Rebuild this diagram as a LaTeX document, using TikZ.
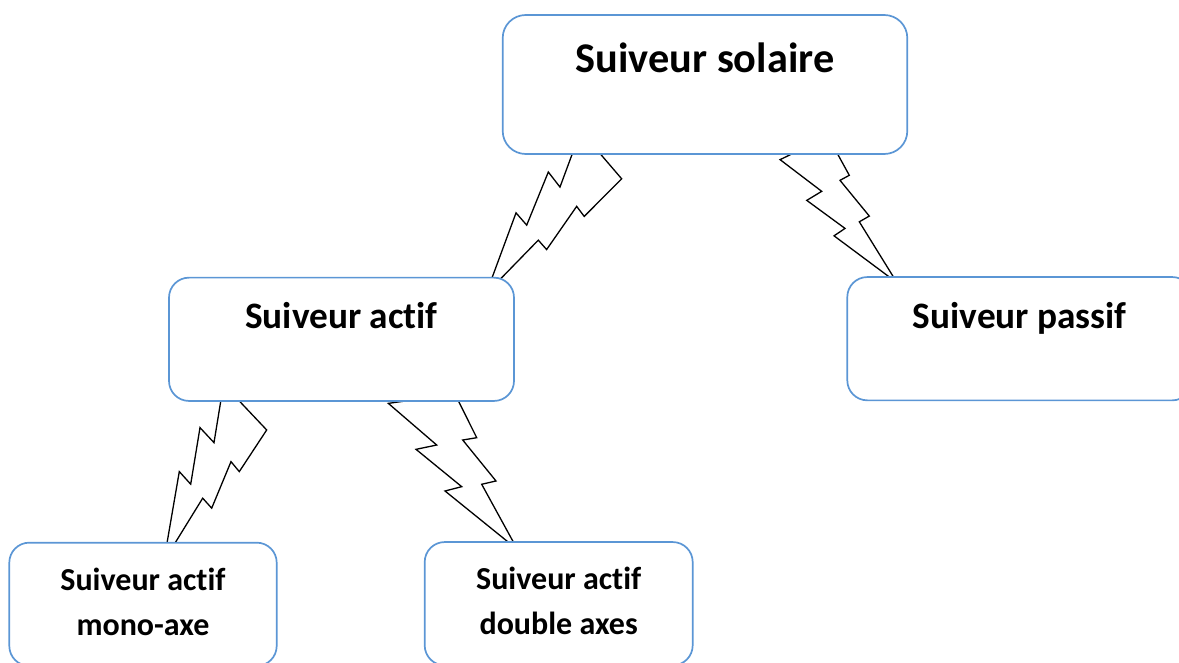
\documentclass[tikz,border=0pt]{standalone}
\usepackage{fontspec}
\setmainfont{Carlito}[Ligatures=NoCommon]
\usepackage{tikz}
\usetikzlibrary{calc, backgrounds}

\definecolor{boxblue}{RGB}{91,150,213}

\newcommand{\bolt}[4]{%
  \draw[boltline] (#1)
    foreach \ta/\da in {#3} { -- ($(#1)!\ta!(#2)!\da pt!90:(#2)$) }
    -- (#2)
    foreach \ta/\da in {#4} { -- ($(#1)!\ta!(#2)!\da pt!90:(#2)$) }
    -- cycle;}

\begin{document}
\begin{tikzpicture}[x=1pt, y=-1pt,
            box/.style={rectangle, draw=boxblue, line width=1.7pt, fill=white, rounded corners=20pt, align=center},
            bigbox/.style={box, minimum width=404.6pt, minimum height=139pt, rounded corners=23pt, font=\fontsize{42.3}{50}\selectfont\bfseries, text height=30pt, text depth=54.4pt},
            midbox/.style={box, minimum width=345pt, minimum height=123.3pt, font=\fontsize{37.3}{45}\selectfont\bfseries, text height=26pt, text depth=47.2pt},
            smallbox/.style={box, minimum height=123.3pt, font=\fontsize{32}{45}\selectfont\bfseries, text depth=5pt},
            boltline/.style={draw=black, line width=1.3pt, line join=miter}
        ]
            \useasboundingbox (0,0) rectangle (1179,663);

            \node[bigbox] (solaire) at (705,84.5) {Suiveur solaire};
            \node[midbox] (actif) at (341.5,339.3) {Suiveur actif};
            \node[midbox] (passif) at (1019.8,338.7) {Suiveur passif};
            \node[smallbox, minimum width=267.4pt] (mono) at (143,604.3) {Suiveur actif\\mono-axe};
            \node[smallbox, minimum width=268pt] (double) at (558.7,603.7) {Suiveur actif\\double axes};

            \coordinate (b1s) at ($(solaire.south)+(-124.3,-23.8)$);
            \coordinate (b1t) at ($(actif.north)+(144.7,16.8)$);
            \coordinate (b2s) at ($(solaire.south)+(123,-18.3)$);
            \coordinate (b2t) at ($(passif.north)+(-122.8,6.5)$);
            \coordinate (b3s) at ($(actif.south)+(-118,-17.5)$);
            \coordinate (b3t) at ($(mono.north)+(20.9,19.3)$);
            \coordinate (b4s) at ($(actif.south)+(113.5,-7.75)$);
            \coordinate (b4t) at ($(double.north)+(-41.2,8.4)$);

            \begin{scope}[on background layer]
                \bolt{b1s}{b1t}{0.313/10.25, 0.275/-7.4, 0.577/0.61, 0.549/-14.8}{0.615/18.17, 0.636/30.1, 0.357/34.37, 0.383/45.95, 0.110/59.4}
                \bolt{b2s}{b2t}{0.0026/-53.2, 0.290/-29.07, 0.301/-46.47, 0.559/-23.83, 0.5715/-36.93}{0.5597/-8.08, 0.554/3.39, 0.2767/-7.84, 0.2731/2.71}
                \bolt{b3s}{b3t}{0.3126/9.63, 0.2604/-8.42, 0.5635/0.83, 0.519/-14.0}{0.614/16.67, 0.6494/28.39, 0.380/31.81, 0.4165/42.86, 0.158/55.52}
                \bolt{b4s}{b4t}{-0.0967/-65.35, 0.2415/-35.98, 0.2193/-56.79, 0.5276/-28.31, 0.5144/-45.41}{0.5588/-8.87, 0.5723/5.63, 0.2715/-9.99, 0.2899/3.86}
            \end{scope}
        \end{tikzpicture}
\end{document}
